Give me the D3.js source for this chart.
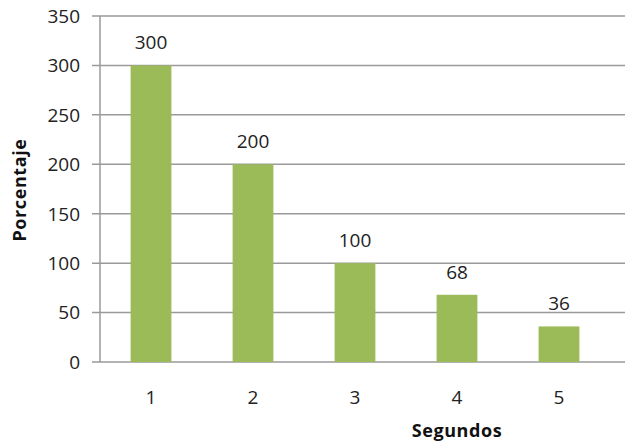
<!DOCTYPE html>
<html><head><meta charset="utf-8">
<script src="https://cdn.jsdelivr.net/npm/d3@7"></script>
<style>body{margin:0;background:#fff}svg{display:block}text{font-family:"Open Sans","Liberation Sans",sans-serif}</style>
</head><body><svg id="c" width="625" height="447"></svg>
<script>
const categories = ["1","2","3","4","5"];
const values = [300,200,100,68,36];
const yTicks = [0,50,100,150,200,250,300,350];
const xTitle = "Segundos";
const yTitle = "Porcentaje";

(function(){
const svg = d3.select("#c");
const mL = 100, mR = 610, mT = 16, mB = 362;
const x = d3.scaleBand().domain(categories).range([mL, mR]).paddingInner(0.6).paddingOuter(0.3);
const y = d3.scaleLinear().domain([0,350]).range([mB, mT]);
const fs = 19;

svg.append("g").selectAll("line").data(yTicks).join("line")
  .attr("x1", mL - 8).attr("x2", 625)
  .attr("y1", d => y(d)).attr("y2", d => y(d))
  .attr("stroke", "#9a9a9a").attr("stroke-width", 1.5);
svg.append("line").attr("x1", mL).attr("x2", mL).attr("y1", mT).attr("y2", mB)
  .attr("stroke", "#9a9a9a").attr("stroke-width", 1.5);

svg.append("g").selectAll("text").data(yTicks).join("text")
  .attr("x", 80).attr("y", d => y(d)).attr("dy", "0.36em")
  .attr("text-anchor", "end").attr("font-size", fs).attr("fill", "#222")
  .text(d => d);

svg.append("g").selectAll("rect").data(values).join("rect")
  .attr("x", (d,i) => x(categories[i])).attr("width", x.bandwidth())
  .attr("y", d => y(d)).attr("height", d => y(0) - y(d))
  .attr("fill", "#9bbb59");

svg.append("g").selectAll("text").data(values).join("text")
  .attr("x", (d,i) => x(categories[i]) + x.bandwidth()/2)
  .attr("y", d => y(d) - 23).attr("dy", "0.36em")
  .attr("text-anchor", "middle").attr("font-size", fs).attr("fill", "#222")
  .text(d => d);

svg.append("g").selectAll("text").data(categories).join("text")
  .attr("x", d => x(d) + x.bandwidth()/2).attr("y", 397).attr("dy", "0.36em")
  .attr("text-anchor", "middle").attr("font-size", fs).attr("fill", "#222")
  .text(d => d);

svg.append("text").attr("x", 457).attr("y", 431).attr("dy", "0.36em")
  .attr("text-anchor", "middle").attr("font-size", 18).attr("letter-spacing", 0.6).attr("font-weight", "bold").attr("fill", "#111")
  .text(xTitle);
svg.append("text").attr("transform", "translate(20,190) rotate(-90)").attr("dy", "0.36em")
  .attr("text-anchor", "middle").attr("font-size", 18).attr("letter-spacing", 0.6).attr("font-weight", "bold").attr("fill", "#111")
  .text(yTitle);
})();
</script></body></html>
